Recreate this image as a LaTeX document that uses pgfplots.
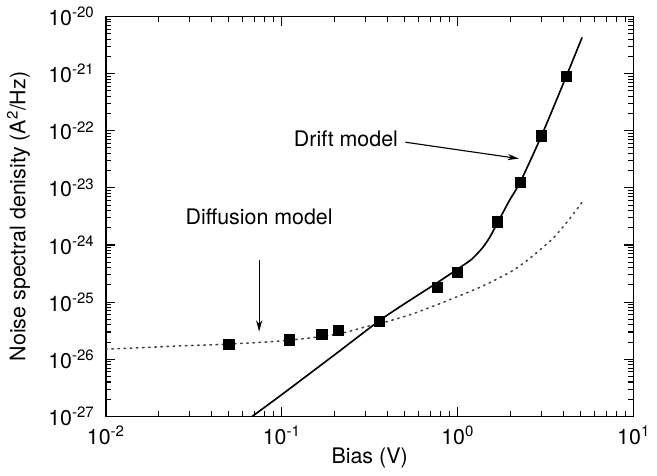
\documentclass[border=0pt]{standalone}
\usepackage{fontspec}
\setmainfont{TeX Gyre Heros}
\usepackage{pgfplots}
\pgfplotsset{compat=1.18}
\usetikzlibrary{arrows.meta}
\begin{document}
\fontsize{21}{25}\selectfont
\begin{tikzpicture}
\begin{axis}[
 name=ax,
 xmode=log, ymode=log,
 scale only axis, width=516bp, height=391bp,
 xmin=0.01, xmax=10, ymin=1e-27, ymax=1e-20,
 xtick={0.01,0.1,1,10},
 xticklabels={10\textsuperscript{-2},10\textsuperscript{-1},10\textsuperscript{0},10\textsuperscript{1}},
 ytick={1e-27,1e-26,1e-25,1e-24,1e-23,1e-22,1e-21,1e-20},
 yticklabels={10\textsuperscript{-27},10\textsuperscript{-26},10\textsuperscript{-25},10\textsuperscript{-24},10\textsuperscript{-23},10\textsuperscript{-22},10\textsuperscript{-21},10\textsuperscript{-20}},
 major tick length=0pt, minor tick length=0pt,
 axis line style={line width=1.6bp},
 xlabel={Bias (V)},
 ylabel={Noise spectral denisity (A\textsuperscript{2}/Hz)},
 every axis x label/.style={at={(axis description cs:0.5,-0.105)},anchor=center},
 every axis y label/.style={at={(axis description cs:-0.165,0.5)},rotate=90,anchor=center},
 xticklabel style={yshift=-2bp},
 yticklabel style={xshift=-4bp},
]
% diffusion model (dotted)
\addplot[black!75, line width=1.5bp, dash pattern=on 1.5bp off 4.5bp, line cap=round, smooth, tension=0.5] coordinates {
 (0.01,1.5e-26) (0.025,1.7e-26) (0.05,1.85e-26) (0.1,2.1e-26) (0.2,2.7e-26)
 (0.3,3.7e-26) (0.4,4.6e-26) (0.56,6.3e-26) (0.88,1.07e-25) (1.38,1.9e-25)
 (1.97,3.3e-25) (2.3,4.5e-25) (2.7,6.6e-25) (3.1,9.5e-25) (3.52,1.35e-24)
 (4.3,2.8e-24) (5.1,5.6e-24)
};
% drift model (solid)
\addplot[black, line width=1.6bp, smooth, tension=0.4] coordinates {
 (0.068,1e-27) (0.1,2.4e-27) (0.2,1.2e-26) (0.358,4.7e-26) (0.5,9.4e-26)
 (0.768,2.2e-25) (1.0,3.8e-25) (1.2,5.6e-25) (1.38,8.8e-25) (1.52,1.35e-24)
 (1.68,2.4e-24) (1.82,3.8e-24) (1.97,6e-24)
 (2.28,1.3e-23) (3.0,8.2e-23) (4.15,9e-22) (5.1,4.3e-21)
};
% measured data
\addplot[only marks, mark=square*, mark size=5bp, mark options={fill=black, draw=black}] coordinates {
 (0.05,1.86e-26) (0.11,2.2e-26) (0.169,2.74e-26) (0.21,3.24e-26) (0.358,4.6e-26)
 (0.768,1.82e-25) (0.996,3.3e-25) (1.68,2.55e-24) (2.28,1.24e-23) (3.0,8.15e-23) (4.15,9e-22)
};
\node at (axis cs:0.232,7.1e-23) {Drift model};
\draw[line width=1.1bp, -{Stealth[length=11bp,width=6bp]}] (axis cs:0.505,6.3e-23) -- (axis cs:2.23,3.25e-23);
\node at (axis cs:0.0745,3.1e-24) {Diffusion model};
\draw[line width=1.1bp, -{Stealth[length=11bp,width=6bp]}] (axis cs:0.0745,5.5e-25) -- (axis cs:0.0745,3.06e-26);
\end{axis}
% inward tick marks on all four sides of the axis box
\foreach \d in {0,1,2}{
  \foreach \m in {2,...,9}{
    \pgfmathsetmacro\xx{172*(\d+ln(\m)/2.302585)}
    \draw[line width=1.1bp] ([xshift=\xx bp]ax.south west) -- ++(0,5bp);
    \draw[line width=1.1bp] ([xshift=\xx bp]ax.north west) -- ++(0,-5bp);
  }
}
\foreach \d in {1,2}{
  \pgfmathsetmacro\xx{172*\d}
  \draw[line width=1.2bp] ([xshift=\xx bp]ax.south west) -- ++(0,9bp);
  \draw[line width=1.2bp] ([xshift=\xx bp]ax.north west) -- ++(0,-9bp);
}
\foreach \d in {0,...,6}{
  \foreach \m in {2,...,9}{
    \pgfmathsetmacro\yy{55.857*(\d+ln(\m)/2.302585)}
    \draw[line width=1.0bp] ([yshift=\yy bp]ax.south west) -- ++(5bp,0);
    \draw[line width=1.0bp] ([yshift=\yy bp]ax.south east) -- ++(-5bp,0);
  }
}
\foreach \d in {1,...,6}{
  \pgfmathsetmacro\yy{55.857*\d}
  \draw[line width=1.2bp] ([yshift=\yy bp]ax.south west) -- ++(9bp,0);
  \draw[line width=1.2bp] ([yshift=\yy bp]ax.south east) -- ++(-9bp,0);
}
\end{tikzpicture}
\end{document}
